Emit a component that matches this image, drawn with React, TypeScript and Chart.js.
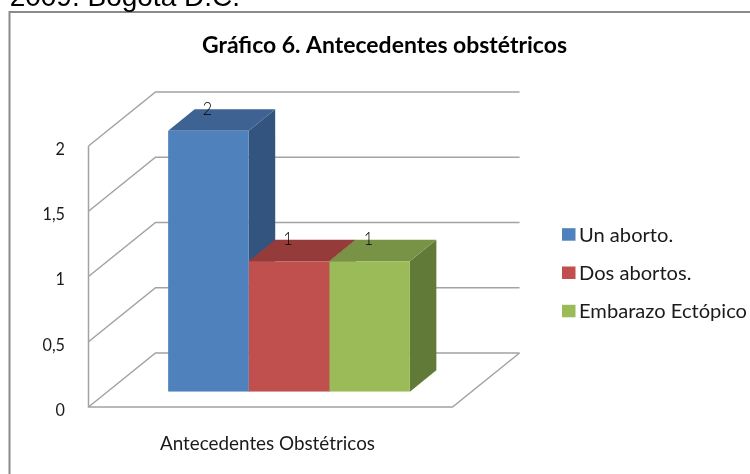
import React, { useEffect, useRef } from "react";
import { Chart, registerables } from "chart.js";

Chart.register(...registerables);

// ---- data ----
const categories = ["Antecedentes Obstétricos"];
const seriesNames = ["Un aborto.", "Dos abortos.", "Embarazo Ectópico"];
const seriesValues = [2, 1, 1];
const yTickValues = [0, 0.5, 1, 1.5, 2];
const chartTitle = "Gráfico 6. Antecedentes obstétricos";
const pageHeaderTail = "2009. Bogotá D.C.";

// ---- styles ----
const frontColors = ["#4F81BD", "#C0504D", "#9BBB59"];
const topColors = ["#3E6291", "#953B39", "#789346"];
const sideColors = ["#345480", "#7E3331", "#617A37"];
const GRID = "#a3a3a3";
const FONT = "Lato, 'Open Sans', sans-serif";

// oblique 3D projection offsets (relative to the bar front plane)
const FRONT = { dx: -18.5, dy: 15.3 };
const BACK = { dx: 48.5, dy: -38.7 };
const DEPTH = { dx: 26.5, dy: -21.5 };

function fitText(ctx: CanvasRenderingContext2D, text: string, left: number, baseline: number, font: string, width: number) {
  ctx.save();
  ctx.font = font;
  const w = ctx.measureText(text).width || 1;
  ctx.translate(left, baseline);
  ctx.scale(width / w, 1);
  ctx.textAlign = "left";
  ctx.textBaseline = "alphabetic";
  ctx.fillText(text, 0, 0);
  ctx.restore();
}

function fitTextCenter(ctx: CanvasRenderingContext2D, text: string, cx: number, baseline: number, font: string, sx: number) {
  ctx.save();
  ctx.font = font;
  ctx.translate(cx, baseline);
  ctx.scale(sx, 1);
  ctx.textAlign = "center";
  ctx.textBaseline = "alphabetic";
  ctx.fillText(text, 0, 0);
  ctx.restore();
}

const fmt = (v: number) => String(v).replace(".", ",");

const threeD = {
  id: "threeD",
  beforeDatasetsDraw(chart: any) {
    const { ctx, chartArea: a } = chart;
    const y = chart.scales.y;
    ctx.save();
    ctx.strokeStyle = GRID;
    ctx.lineWidth = 1.5;
    const ticks: number[] = y.ticks.length ? y.ticks.map((t: any) => t.value) : yTickValues;
    for (const v of ticks) {
      const py = y.getPixelForValue(v);
      ctx.beginPath();
      ctx.moveTo(a.left + FRONT.dx, py + FRONT.dy);
      ctx.lineTo(a.left + BACK.dx, py + BACK.dy);
      ctx.lineTo(a.right + BACK.dx, py + BACK.dy);
      ctx.stroke();
    }
    const y0 = y.getPixelForValue(0);
    const yMax = y.getPixelForValue(y.max);
    ctx.beginPath();
    ctx.moveTo(a.left + FRONT.dx, yMax + FRONT.dy);
    ctx.lineTo(a.left + FRONT.dx, y0 + FRONT.dy);
    ctx.lineTo(a.right + FRONT.dx, y0 + FRONT.dy);
    ctx.lineTo(a.right + BACK.dx, y0 + BACK.dy);
    ctx.stroke();

    // bar side and top faces
    chart.data.datasets.forEach((_ds: any, i: number) => {
      const meta = chart.getDatasetMeta(i);
      meta.data.forEach((bar: any) => {
        const p = bar.getProps(["x", "y", "base", "width"], true);
        const l = p.x - p.width / 2;
        const r = p.x + p.width / 2;
        ctx.fillStyle = sideColors[i];
        ctx.beginPath();
        ctx.moveTo(r, p.y);
        ctx.lineTo(r + DEPTH.dx, p.y + DEPTH.dy);
        ctx.lineTo(r + DEPTH.dx, p.base + DEPTH.dy);
        ctx.lineTo(r, p.base);
        ctx.closePath();
        ctx.fill();
        ctx.fillStyle = topColors[i];
        ctx.beginPath();
        ctx.moveTo(l, p.y);
        ctx.lineTo(r, p.y);
        ctx.lineTo(r + DEPTH.dx, p.y + DEPTH.dy);
        ctx.lineTo(l + DEPTH.dx, p.y + DEPTH.dy);
        ctx.closePath();
        ctx.fill();
      });
    });
    ctx.restore();
  },
  afterDatasetsDraw(chart: any) {
    const { ctx } = chart;
    ctx.save();
    ctx.fillStyle = "#000";
    chart.data.datasets.forEach((ds: any, i: number) => {
      const meta = chart.getDatasetMeta(i);
      meta.data.forEach((bar: any, j: number) => {
        const p = bar.getProps(["x", "y"], true);
        fitTextCenter(ctx, fmt(ds.data[j]), p.x - 1, p.y + DEPTH.dy + 5.5, `300 18px ${FONT}`, 0.9);
      });
    });
    ctx.restore();
  },
  afterDraw(chart: any) {
    const { ctx } = chart;
    const y = chart.scales.y;
    ctx.save();
    // outer frame
    ctx.strokeStyle = "#8a8a8a";
    ctx.lineWidth = 2;
    ctx.strokeRect(9.5, 12, 800, 500);

    // page header tail (cut off at top)
    ctx.fillStyle = "#000";
    ctx.font = "28px 'Liberation Sans', Arial, sans-serif";
    ctx.textAlign = "right";
    ctx.textBaseline = "alphabetic";
    ctx.fillText(pageHeaderTail, 240, 5.5);

    // title
    ctx.fillStyle = "#000";
    fitText(ctx, chartTitle, 202, 53, `bold 22.5px ${FONT}`, 365);

    // y tick labels on the front wall edge
    ctx.fillStyle = "#1a1a1a";
    const ticks: number[] = y.ticks.length ? y.ticks.map((t: any) => t.value) : yTickValues;
    for (const v of ticks) {
      const label = fmt(v);
      ctx.save();
      ctx.font = `18px ${FONT}`;
      const w = ctx.measureText(label).width;
      ctx.restore();
      fitText(ctx, label, 65 - w * 0.9, y.getPixelForValue(v) + FRONT.dy + 8.8, `18px ${FONT}`, w * 0.9);
    }

    // category label
    const xs = chart.scales.x;
    const cat = xs.getLabels ? xs.getLabels()[0] : categories[0];
    fitText(ctx, cat, 160, 450, `19.5px ${FONT}`, 215);

    // legend
    const legendFont = `19.5px ${FONT}`;
    ctx.font = legendFont;
    const sx = 168 / (ctx.measureText(seriesNames[2]).width || 1);
    seriesNames.forEach((name, i) => {
      const base = 241.7 + i * 38.3;
      ctx.fillStyle = frontColors[i];
      ctx.fillRect(562, base - 13.5, 13.5, 12.5);
      ctx.fillStyle = "#1a1a1a";
      ctx.font = legendFont;
      const w = ctx.measureText(name).width;
      fitText(ctx, name, 579, base, legendFont, w * sx);
    });
    ctx.restore();
  },
};

export default function App() {
  const ref = useRef<HTMLCanvasElement | null>(null);
  useEffect(() => {
    if (!ref.current) return;
    const chart = new Chart(ref.current, {
      type: "bar",
      data: {
        labels: categories,
        datasets: seriesNames.map((name, i) => ({
          label: name,
          data: [seriesValues[i]],
          backgroundColor: frontColors[i],
          borderWidth: 0,
          barPercentage: 1,
          categoryPercentage: 0.664,
        })),
      },
      options: {
        responsive: false,
        animation: false,
        events: [],
        layout: { padding: { left: 107, right: 279, top: 130.7, bottom: 82.3 } },
        plugins: {
          legend: { display: false },
          title: { display: false },
          tooltip: { enabled: false },
        },
        scales: {
          x: { display: false },
          y: {
            display: true,
            min: 0,
            max: 2,
            ticks: { display: false, stepSize: 0.5 },
            grid: { display: false, drawTicks: false },
            border: { display: false },
          },
        },
      },
      plugins: [threeD],
    });
    return () => chart.destroy();
  }, []);
  return (
    <div style={{ position: "fixed", left: 0, top: 0, width: 750, height: 474, background: "#fff" }}>
      <canvas ref={ref} width={750} height={474} style={{ width: 750, height: 474, display: "block" }} />
    </div>
  );
}
